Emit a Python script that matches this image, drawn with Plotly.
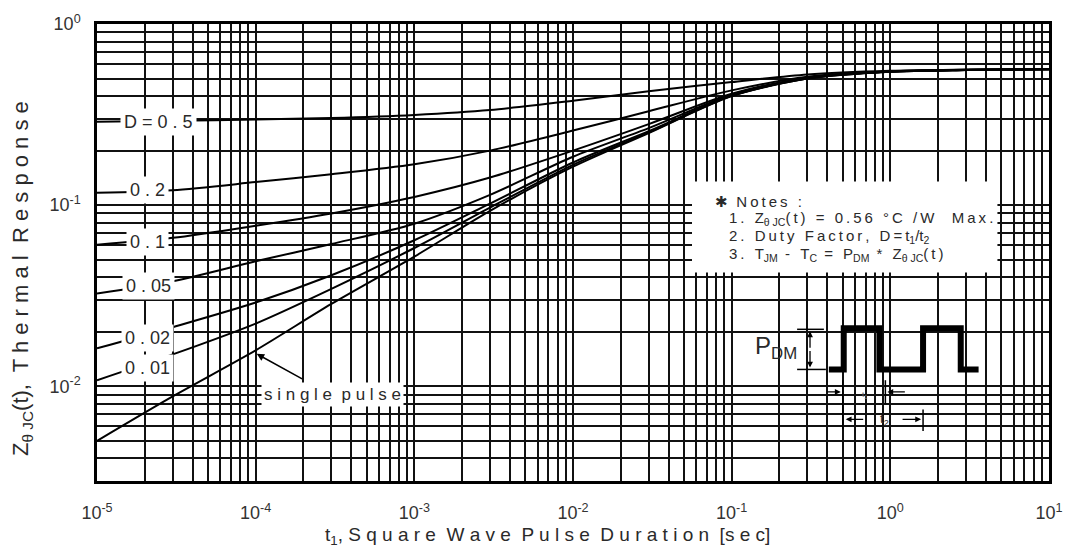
import plotly.graph_objects as go
import math

# ---------------- data ----------------
t_sec = [1e-5, 3e-5, 1e-4, 3e-4, 1e-3, 3e-3, 1e-2, 3e-2, 1e-1, 3e-1, 1, 3, 10]

z_d050 = [0.289, 0.292, 0.297, 0.303, 0.315, 0.335, 0.377, 0.425, 0.478, 0.527, 0.552, 0.560, 0.565]
z_d020 = [0.117, 0.121, 0.134, 0.148, 0.168, 0.200, 0.258, 0.330, 0.430, 0.512, 0.549, 0.559, 0.564]
z_d010 = [0.0605, 0.066, 0.077, 0.090, 0.111, 0.142, 0.200, 0.280, 0.412, 0.505, 0.547, 0.558, 0.563]
z_d005 = [0.0325, 0.038, 0.049, 0.061, 0.079, 0.114, 0.185, 0.266, 0.407, 0.503, 0.546, 0.557, 0.563]
z_d002 = [0.0162, 0.0212, 0.029, 0.041, 0.064, 0.102, 0.172, 0.256, 0.403, 0.501, 0.546, 0.557, 0.563]
z_d001 = [0.0108, 0.0150, 0.0222, 0.0345, 0.058, 0.097, 0.167, 0.252, 0.401, 0.500, 0.545, 0.557, 0.563]
z_single = [0.0050, 0.0088, 0.0158, 0.0285, 0.052, 0.093, 0.163, 0.250, 0.400, 0.500, 0.545, 0.557, 0.563]

series = [z_d050, z_d020, z_d010, z_d005, z_d002, z_d001, z_single]

x_decades = [-5, -4, -3, -2, -1, 0, 1]
y_decades = [-2, -1, 0]
y_min = 0.003

# ---------------- layout helpers ----------------
W, H = 1075, 553
L, R, T, B = 97, 1057, 14, 481


def px(x):
    return (x - L) / (R - L)


def py(y):
    return (B - y) / (B - T)


def sp(s):
    return "\u2009".join(list(s))


FONT = "Liberation Sans, Arial, sans-serif"
TXT = "#2a2a2a"

fig = go.Figure()
for z in series:
    fig.add_trace(go.Scatter(x=t_sec, y=z, mode="lines",
                             line=dict(color="black", width=2, shape="spline", smoothing=0.8),
                             showlegend=False, hoverinfo="skip"))

# major ticks at decades, minor grid at 2..9
xt_vals = [10 ** d for d in x_decades]
xt_text = [f"10<sup>{d}</sup>" for d in x_decades]
x_minor = [m * 10 ** d for d in x_decades[:-1] for m in range(2, 10)]
yt_vals = [10 ** d for d in y_decades]
yt_text = [f"10<sup>{d}</sup>" for d in y_decades]
y_minor = [m * 10 ** d for d in [-3] + y_decades[:-1] for m in range(2, 10) if m * 10 ** d >= y_min * 0.999]

grid = dict(gridcolor="#111111", gridwidth=1.5)
axis_common = dict(showgrid=True, showline=True, linecolor="black", linewidth=2.5, mirror=True,
                   ticks="", zeroline=False,
                   tickfont=dict(family=FONT, size=18, color="#333333"), **grid)

fig.update_xaxes(type="log", range=[-5, 1], tickmode="array", tickvals=xt_vals, ticktext=xt_text,
                 ticklabelstandoff=14,
                 minor=dict(tickmode="array", tickvals=x_minor, showgrid=True, ticks="", **grid),
                 **axis_common)
fig.update_yaxes(type="log", range=[math.log10(y_min), 0], tickmode="array", tickvals=yt_vals,
                 ticktext=yt_text, ticklabelstandoff=10,
                 minor=dict(tickmode="array", tickvals=y_minor, showgrid=True, ticks="", **grid),
                 **axis_common)

ann = []
shapes = []

# curve labels (white boxes)
labels = [("D = 0 . 5", 159, 114), ("0 . 2", 148, 184), ("0 . 1", 148, 237),
          ("0 . 05", 149, 282), ("0 . 02", 148, 335), ("0 . 01", 148, 366)]
for txt, x, y in labels:
    ann.append(dict(x=px(x), y=py(y), xref="paper", yref="paper", text=txt, showarrow=False,
                    font=dict(family=FONT, size=18, color=TXT), bgcolor="white", borderpad=3,
                    xanchor="center", yanchor="middle"))

ann.append(dict(x=px(334), y=py(393), xref="paper", yref="paper", text="s i n g l e  p u l s e",
                showarrow=False, font=dict(family=FONT, size=17, color=TXT), bgcolor="white",
                borderpad=2, xanchor="center", yanchor="middle"))
ann.append(dict(x=px(258), y=py(351), xref="paper", yref="paper", text="", showarrow=True,
                ax=47, ay=26, arrowhead=2, arrowsize=1, arrowwidth=1.5, arrowcolor="black"))

# axis titles
ann.append(dict(x=px(551), y=py(537), xref="paper", yref="paper",
                text="t<sub>1</sub>, S q u a r e  W a v e  P u l s e  D u r a t i o n  [s e c]",
                showarrow=False, font=dict(family=FONT, size=19, color=TXT),
                xanchor="center", yanchor="middle"))
ann.append(dict(x=px(22), y=py(274), xref="paper", yref="paper", textangle=-90,
                text="Z<sub>\u03b8 JC</sub>(t),  T h e r m a l  R e s p o n s e",
                showarrow=False, font=dict(family=FONT, size=22, color=TXT),
                xanchor="center", yanchor="middle"))

# notes box
shapes.append(dict(type="rect", xref="paper", yref="paper", x0=px(697), x1=px(1005),
                   y0=py(268), y1=py(175), fillcolor="white", line=dict(width=0), layer="above"))
notes = [
    (718, 195, "\u2731  " + sp("Notes :")),
    (732, 213, sp("1. Z") + "<sub>\u03b8 JC</sub>" + sp("(t) = 0.56 \u00b0C /W  Max.")),
    (732, 231, sp("2. Duty Factor, D=t") + "<sub>1</sub>/t<sub>2</sub>"),
    (732, 250, sp("3. T") + "<sub>JM</sub>" + sp(" - T") + "<sub>C</sub>" + sp(" = P")
     + "<sub>DM</sub>" + sp(" * Z") + "<sub>\u03b8 JC</sub>" + sp("(t)")),
]
for x, y, txt in notes:
    ann.append(dict(x=px(x), y=py(y), xref="paper", yref="paper", text=txt, showarrow=False,
                    font=dict(family=FONT, size=15, color=TXT), xanchor="left", yanchor="middle"))

# pulse diagram
wave = [(835, 367), (850, 367), (850, 325), (886, 325), (886, 367), (930, 367), (930, 325),
        (968, 325), (968, 367), (986, 367)]
path = "M " + " L ".join(f"{px(a):.5f},{py(b):.5f}" for a, b in wave)
shapes.append(dict(type="path", xref="paper", yref="paper", path=path,
                   line=dict(color="black", width=6), layer="above"))
for (x0, y0, x1, y1) in [(803, 326, 830, 326), (803, 367, 832, 367),
                         (849, 378, 849, 428), (892, 378, 892, 402), (930, 408, 930, 430)]:
    shapes.append(dict(type="line", xref="paper", yref="paper", x0=px(x0), y0=py(y0),
                       x1=px(x1), y1=py(y1), line=dict(color="black", width=1.5), layer="above"))
arrows = [(816, 328, 0, 18), (816, 365, 0, -18), (847, 390, -15, 0), (894, 390, 19, 0),
          (852, 418, 19, 0), (928, 418, -20, 0)]
for x, y, axp, ayp in arrows:
    ann.append(dict(x=px(x), y=py(y), xref="paper", yref="paper", text="", showarrow=True,
                    ax=axp, ay=ayp, arrowhead=2, arrowsize=0.9, arrowwidth=1.3, arrowcolor="black"))
ann.append(dict(x=px(782), y=py(345), xref="paper", yref="paper", text="P<sub>DM</sub>",
                showarrow=False, font=dict(family=FONT, size=24, color=TXT),
                xanchor="center", yanchor="middle"))
ann.append(dict(x=px(871), y=py(393), xref="paper", yref="paper", text="t<sub>1</sub>",
                showarrow=False, font=dict(family=FONT, size=8, color="#777777"),
                xanchor="center", yanchor="middle"))
ann.append(dict(x=px(891), y=py(418), xref="paper", yref="paper", text="t<sub>2</sub>",
                showarrow=False, font=dict(family=FONT, size=13, color=TXT),
                xanchor="center", yanchor="middle"))

fig.update_layout(width=W, height=H, margin=dict(l=L, r=W - R, t=T, b=H - B),
                  paper_bgcolor="white", plot_bgcolor="white",
                  annotations=ann, shapes=shapes, showlegend=False)

fig.write_html("out.html")
